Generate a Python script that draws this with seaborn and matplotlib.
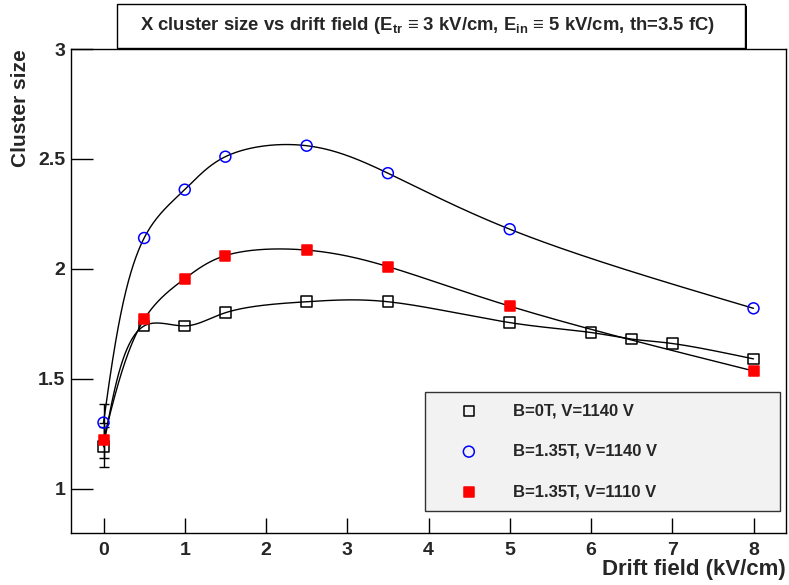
import numpy as np
import pandas as pd
import matplotlib
matplotlib.use("Agg")
import matplotlib.pyplot as plt
import seaborn as sns
from matplotlib.patches import Rectangle

# Measured cluster size (X strips) versus drift field
drift_b0 = [0.0, 0.5, 1.0, 1.5, 2.5, 3.5, 5.0, 6.0, 6.5, 7.0, 8.0]
size_b0_1140 = [1.19, 1.74, 1.74, 1.80, 1.85, 1.85, 1.755, 1.71, 1.68, 1.66, 1.59]
err_b0_1140 = [0.09, 0, 0, 0, 0, 0, 0, 0, 0, 0, 0]

drift_b135 = [0.0, 0.5, 1.0, 1.5, 2.5, 3.5, 5.0, 8.0]
size_b135_1140 = [1.30, 2.14, 2.36, 2.51, 2.56, 2.435, 2.18, 1.82]
err_b135_1140 = [0.085, 0, 0, 0, 0, 0, 0, 0]
size_b135_1110 = [1.22, 1.77, 1.955, 2.06, 2.085, 2.01, 1.83, 1.535]
err_b135_1110 = [0.08, 0, 0, 0, 0, 0, 0, 0]

series_labels = ["B=0T, V=1140 V", "B=1.35T, V=1140 V", "B=1.35T, V=1110 V"]
x_ticks = [0, 1, 2, 3, 4, 5, 6, 7, 8]
x_ticklabels = ["0", "1", "2", "3", "4", "5", "6", "7", "8"]
y_ticks = [1.0, 1.5, 2.0, 2.5, 3.0]
y_ticklabels = ["1", "1.5", "2", "2.5", "3"]
title_text = ("X cluster size vs drift field (E$_{\\mathrm{tr}}$ \u2261 3 kV/cm, "
              "E$_{\\mathrm{in}}$ \u2261 5 kV/cm, th=3.5 fC)")

sns.set_theme(style="white")
plt.rcParams["font.family"] = ["Liberation Sans", "DejaVu Sans"]
plt.rcParams["font.weight"] = "bold"
plt.rcParams["mathtext.fontset"] = "custom"
plt.rcParams["mathtext.rm"] = "Liberation Sans:bold"
plt.rcParams["mathtext.it"] = "Liberation Sans:bold"
plt.rcParams["mathtext.bf"] = "Liberation Sans:bold"

XMIN, XMAX, YMIN, YMAX = -0.4, 8.4, 0.8, 3.0
W, H = 789, 585
fig = plt.figure(figsize=(W / 100, H / 100), dpi=100)
fig.patch.set_facecolor("white")
ax = fig.add_axes([71 / W, 1 - 532.5 / H, (786 - 71) / W, (532.5 - 49) / H])
ax.set_facecolor("white")


def natural_spline(t, v, tt):
    t = np.asarray(t, float)
    v = np.asarray(v, float)
    n = len(t)
    h = np.diff(t)
    A = np.zeros((n, n))
    r = np.zeros(n)
    A[0, 0] = A[-1, -1] = 1.0
    for i in range(1, n - 1):
        A[i, i - 1] = h[i - 1]
        A[i, i] = 2 * (h[i - 1] + h[i])
        A[i, i + 1] = h[i]
        r[i] = 6 * ((v[i + 1] - v[i]) / h[i] - (v[i] - v[i - 1]) / h[i - 1])
    M = np.linalg.solve(A, r)
    idx = np.clip(np.searchsorted(t, tt) - 1, 0, n - 2)
    t0, t1, hh = t[idx], t[idx + 1], h[idx]
    a = (t1 - tt) / hh
    b = (tt - t0) / hh
    return a * v[idx] + b * v[idx + 1] + ((a ** 3 - a) * M[idx] + (b ** 3 - b) * M[idx + 1]) * hh ** 2 / 6


def smooth_curve(x, y, n=800):
    # parametric spline, centripetal parameter measured in screen space
    pos = ax.get_position()
    sx = pos.width * W / (XMAX - XMIN)
    sy = pos.height * H / (YMAX - YMIN)
    px = np.asarray(x, float) * sx
    py = np.asarray(y, float) * sy
    seg = np.sqrt(np.hypot(np.diff(px), np.diff(py)))
    t = np.concatenate([[0.0], np.cumsum(seg)])
    tt = np.linspace(0, t[-1], n)
    return natural_spline(t, x, tt), natural_spline(t, y, tt)


datasets = [
    (drift_b0, size_b0_1140, err_b0_1140, dict(marker="s", s=58, facecolor="none", edgecolor="black")),
    (drift_b135, size_b135_1140, err_b135_1140, dict(marker="o", s=62, facecolor="none", edgecolor="#0000ff")),
    (drift_b135, size_b135_1110, err_b135_1110, dict(marker="s", s=58, facecolor="#ff0000", edgecolor="#ff0000")),
]

handles = []
for (xs, ys, es, style), label in zip(datasets, series_labels):
    cx, cy = smooth_curve(xs, ys)
    curve = pd.DataFrame({"x": cx, "y": cy})
    sns.lineplot(data=curve, x="x", y="y", sort=False, estimator=None,
                 color="black", linewidth=1.0, ax=ax, zorder=2)
    df = pd.DataFrame({"x": xs, "y": ys, "e": es})
    sub = df[df["e"] > 0]
    ax.errorbar(sub["x"], sub["y"], yerr=sub["e"], fmt="none", ecolor="black",
                elinewidth=1.0, capsize=3.5, capthick=1.0, zorder=2)
    n_before = len(ax.collections)
    sns.scatterplot(data=df, x="x", y="y", linewidth=1.1, ax=ax, zorder=3, **style)
    handles.append(ax.collections[n_before])

ax.set_xlim(XMIN, XMAX)
ax.set_ylim(YMIN, YMAX)
ax.set_xticks(x_ticks)
ax.set_xticklabels(x_ticklabels)
ax.set_yticks(y_ticks)
ax.set_yticklabels(y_ticklabels)
ax.set_xticks(np.arange(-0.2, 8.4, 0.2), minor=True)
ax.set_yticks(np.arange(0.9, 3.0, 0.1), minor=True)
ax.tick_params(axis="x", which="major", direction="in", length=10.5, width=1.0,
               color="black", labelsize=14, pad=7)
ax.tick_params(axis="x", which="minor", direction="in", length=5, width=1.0, color="black")
ax.tick_params(axis="y", which="major", direction="in", length=16, width=1.0,
               color="black", labelsize=14, pad=4)
ax.tick_params(axis="y", which="minor", direction="in", length=8, width=1.0, color="black")
ax.tick_params(bottom=True, left=True, top=False, right=False)
for lab in ax.get_xticklabels() + ax.get_yticklabels():
    lab.set_fontweight("bold")
for sp in ax.spines.values():
    sp.set_visible(True)
    sp.set_color("black")
    sp.set_linewidth(1.0)

ax.set_xlabel("Drift field (kV/cm)", loc="right", fontsize=16, fontweight="bold", labelpad=0)
ax.set_ylabel("Cluster size", loc="top", fontsize=15, fontweight="bold", labelpad=6)

leg = ax.legend(handles=handles, labels=series_labels, loc="upper left",
                bbox_to_anchor=(425 / W, 1 - 513 / H, 355 / W, 121 / H),
                bbox_transform=fig.transFigure, mode="expand", borderaxespad=0,
                frameon=True, fancybox=False, prop=dict(size=12, weight="bold"),
                handlelength=3.9, handletextpad=0.69, labelspacing=1.54,
                borderpad=0.68, scatterpoints=1)
frame = leg.get_frame()
frame.set_facecolor("#f2f2f2")
frame.set_edgecolor("#333333")
frame.set_linewidth(1.0)
frame.set_alpha(1.0)

# title pave with a thin drop shadow
fig.add_artist(Rectangle((119.5 / W, 1 - 49 / H), 627 / W, 43.5 / H,
                         transform=fig.transFigure, facecolor="black",
                         edgecolor="none", zorder=5))
fig.add_artist(Rectangle((117.5 / W, 1 - 47.5 / H), 627 / W, 43.5 / H,
                         transform=fig.transFigure, facecolor="white",
                         edgecolor="black", linewidth=1.0, zorder=6))
fig.text(427 / W, 1 - 25 / H, title_text, ha="center", va="center",
         fontsize=13.3, fontweight="bold", zorder=7)

fig.savefig("out.png", dpi=100, facecolor="white")
